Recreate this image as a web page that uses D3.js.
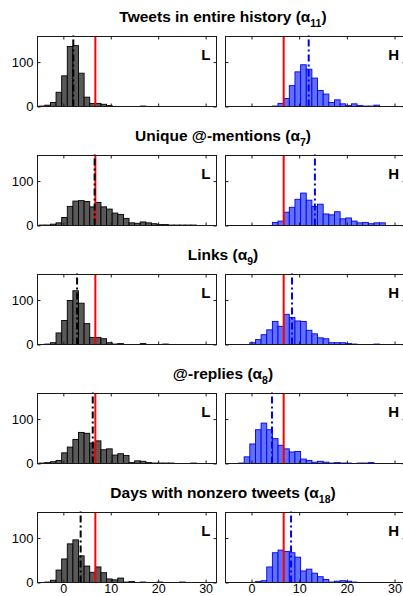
<!DOCTYPE html>
<html>
<head>
<meta charset="utf-8">
<script src="https://cdn.jsdelivr.net/npm/d3@7"></script>
<style>
  body { margin: 0; background: #fff; }
  svg { display: block; font-family: Arial, "Liberation Sans", Helvetica, sans-serif; }
</style>
</head>
<body>
<svg width="403" height="596"></svg>
<script>
// every histogram uses the same bin grid; one edge sits on the threshold
const binEdge = 6.75, binWidth = 1.184, firstBin = -10;
const threshold = 6.75;

const titles = ["Tweets in entire history", "Unique @-mentions", "Links", "@-replies", "Days with nonzero tweets"];
const subscripts = ["11", "7", "9", "8", "18"];
const lowMarks = [2.1, 6.6, 2.9, 6.2, 3.65];
const highMarks = [12.0, 13.3, 8.5, 4.3, 8.3];
const xTicks = [0, 10, 20, 30];
const yTicks = [0, 100];

// counts for bins k = -10 .. 20 (bin k starts at binEdge + k * binWidth)
const lowCounts = [
  [1, 3, 9, 32, 69, 135, 137, 75, 21, 7, 7, 5, 2, 0, 0, 0, 0, 0, 1, 0, 0, 0, 0, 0, 0, 0, 0, 0, 0, 0, 0],
  [1, 1, 3, 6, 18, 43, 55, 56, 54, 42, 52, 42, 37, 28, 25, 16, 6, 5, 8, 6, 4, 2, 2, 1, 1, 1, 1, 1, 0, 0, 0],
  [0, 1, 4, 26, 54, 99, 121, 93, 47, 16, 16, 13, 4, 1, 2, 0, 0, 0, 2, 0, 0, 0, 1, 0, 0, 0, 0, 0, 0, 0, 0],
  [1, 2, 4, 7, 24, 37, 54, 70, 68, 46, 51, 31, 33, 19, 22, 18, 2, 6, 5, 2, 1, 1, 1, 1, 0, 0, 0, 1, 0, 0, 0],
  [0, 1, 5, 28, 53, 87, 96, 60, 37, 23, 35, 22, 8, 6, 10, 1, 2, 0, 1, 0, 0, 1, 0, 0, 0, 1, 0, 0, 0, 0, 0]
];
const highCounts = [
  [0, 0, 0, 0, 0, 0, 0, 0, 1, 7, 18, 47, 78, 94, 84, 64, 36, 28, 9, 15, 6, 2, 6, 2, 1, 1, 3, 0, 0, 0, 0],
  [0, 0, 0, 0, 0, 0, 0, 0, 7, 10, 30, 41, 59, 73, 57, 43, 48, 26, 24, 31, 15, 17, 10, 6, 7, 4, 6, 6, 0, 0, 0],
  [0, 0, 0, 0, 4, 11, 22, 33, 52, 41, 68, 61, 53, 52, 32, 24, 15, 13, 4, 4, 4, 2, 1, 0, 0, 0, 1, 0, 0, 0, 0],
  [0, 0, 1, 15, 44, 76, 91, 76, 56, 41, 33, 26, 27, 10, 7, 3, 5, 3, 1, 2, 1, 1, 0, 1, 1, 2, 0, 0, 0, 0, 0],
  [0, 0, 0, 0, 0, 2, 4, 35, 67, 73, 70, 67, 57, 26, 30, 21, 13, 7, 1, 3, 4, 3, 1, 0, 0, 0, 0, 0, 0, 0, 0]
];

const svg = d3.select("svg");
const fontFamily = 'Arial, "Liberation Sans", Helvetica, sans-serif';

const columns = [
  { x0: 37.5, x1: 216.5, counts: lowCounts, marks: lowMarks, fill: "#595959", stroke: "#000", markColor: "#000", label: "L", labelX: 210.5 },
  { x0: 225.5, x1: 405.5, counts: highCounts, marks: highMarks, fill: "#6170fb", stroke: "#0000f0", markColor: "#0000ff", label: "H", labelX: 399 }
];

titles.forEach(function (title, r) {
  const top = Math.floor(36.7 + r * 118.9) + 0.5;
  const bottom = top + 70;
  const y = d3.scaleLinear().domain([0, 157.6]).range([bottom, top]);

  const t = svg.append("text")
    .attr("x", 223)
    .attr("y", top - 15)
    .attr("text-anchor", "middle")
    .attr("font-weight", "bold")
    .attr("font-size", 15.5)
    .attr("fill", "#000");
  t.append("tspan").text(title + " (\u03b1");
  t.append("tspan").attr("dy", 5).attr("font-size", 10.5).text(subscripts[r]);
  t.append("tspan").attr("dy", -5).text(")");

  columns.forEach(function (c, ci) {
    const x = d3.scaleLinear().domain([-5.45, 32.3]).range([c.x0, c.x1]);
    const g = svg.append("g");

    const counts = c.counts[r];
    const bins = counts.map((n, i) => ({ start: binEdge + (firstBin + i) * binWidth, n: n }));
    const first = counts.findIndex(n => n > 0);
    let last = counts.length - 1;
    while (counts[last] === 0) last--;

    g.selectAll("rect.bar")
      .data(bins.slice(first, last + 1))
      .join("rect")
      .attr("class", "bar")
      .attr("x", d => x(d.start))
      .attr("width", d => x(d.start + binWidth) - x(d.start))
      .attr("y", d => y(d.n))
      .attr("height", d => y(0) - y(d.n))
      .attr("fill", c.fill)
      .attr("stroke", c.stroke)
      .attr("stroke-width", 0.9);

    g.append("line")
      .attr("x1", x(threshold)).attr("x2", x(threshold))
      .attr("y1", y(0)).attr("y2", top)
      .attr("stroke", "#ff0000")
      .attr("stroke-width", 2);

    g.append("line")
      .attr("x1", x(c.marks[r])).attr("x2", x(c.marks[r]))
      .attr("y1", y(0)).attr("y2", top - 1)
      .attr("stroke", c.markColor)
      .attr("stroke-width", 2)
      .attr("stroke-dasharray", "7,3,2,3");

    g.append("rect")
      .attr("x", c.x0).attr("y", top)
      .attr("width", c.x1 - c.x0).attr("height", 70)
      .attr("fill", "none")
      .attr("stroke", "#1a1a1a")
      .attr("stroke-width", 1);

    const axes = [
      { axis: d3.axisBottom(x).tickValues(xTicks).tickPadding(1.5)
          .tickFormat(r === 4 ? d3.format("d") : () => ""), tr: [0, bottom] },
      { axis: d3.axisTop(x).tickValues(xTicks).tickFormat(() => ""), tr: [0, top] },
      { axis: d3.axisLeft(y).tickValues(yTicks).tickPadding(4)
          .tickFormat(ci === 0 ? d3.format("d") : () => ""), tr: [c.x0, 0] },
      { axis: d3.axisRight(y).tickValues(yTicks).tickFormat(() => ""), tr: [c.x1, 0] }
    ];
    axes.forEach(function (a, ai) {
      const ag = g.append("g")
        .attr("transform", "translate(" + a.tr[0] + "," + a.tr[1] + ")")
        .call(a.axis.tickSizeInner(-3).tickSizeOuter(0));
      ag.select(".domain").remove();
      ag.selectAll("line").attr("stroke", "#1a1a1a");
      ag.attr("font-family", fontFamily).attr("font-size", ai === 0 ? 12.5 : 13);
      ag.selectAll("text").attr("fill", "#000");
    });

    g.append("text")
      .attr("x", c.labelX)
      .attr("y", top + 23.5)
      .attr("text-anchor", "end")
      .attr("font-weight", "bold")
      .attr("font-size", 15)
      .text(c.label);
  });
});
</script>
</body>
</html>
